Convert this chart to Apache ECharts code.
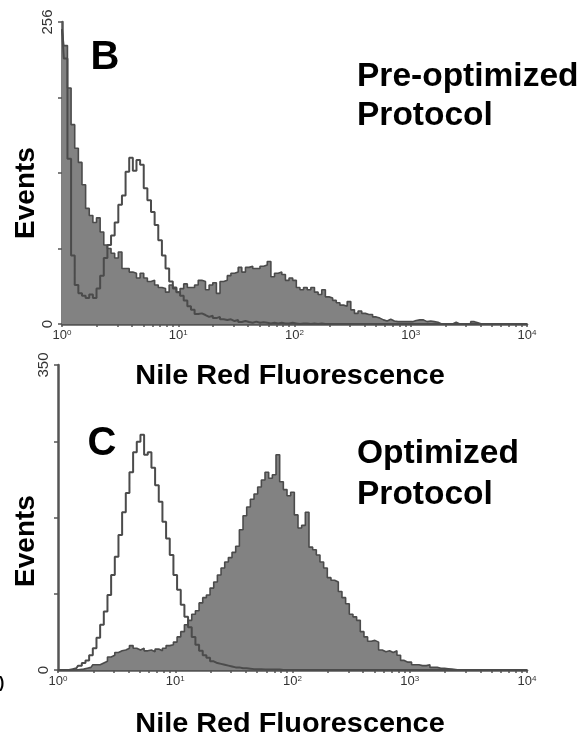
<!DOCTYPE html>
<html><head><meta charset="utf-8">
<script src="https://cdn.jsdelivr.net/npm/echarts@6/dist/echarts.min.js"></script>
<style>html,body{margin:0;padding:0;background:#fff}#c{width:582px;height:740px}</style>
</head><body><div id="c"></div>
<script>
// Channel positions on the log fluorescence axis, in decades (log10 units): 32 channels per decade, 10^0 .. 10^4
const channelDecades = Array.from({length: 129}, (_, i) => i / 32);

// Panel B (pre-optimized protocol): events per channel
const eventsB_filled = [250,236,200,169,149,137,118,98,92,86,90,78,67,64,60,56,61,47,47,44,43,39,43,39,36,37,33,31,30,27,33,30,27,30,34,31,31,33,37,36,29,33,35,26,36,37,41,43,44,48,44,48,49,47,47,49,50,53,40,43,44,42,37,39,37,31,29,31,29,31,27,25,29,23,22,20,18,16,15,19,12,9,11,9,8,8,6,5,3.5,2.5,4,2.5,2,2,2,2,2,3,3.5,3.5,2,2.5,2,1.5,0,0,0,0,1.5,0,0,0,0,2,1,0,0,0,0,0,0,0,0,0,0,0,0,0,0];
const eventsB_open = [250,225,140,58,33,26,24,22,25,22,30,41,56,67,75,86,101,109,129,141,130,139,135,115,105,95,84,71,58,47,36,31,27,24,20,15,12,8.5,9,7.6,6,7,5,6,4,3.4,4,2.5,3.4,1.7,2.5,1.7,1,2,1,1.5,1,0.5,1,0.5,1,0.5,0.5,1,0.5,0,0.5,0.5,0,0.5,0,0.5,0,0,0,0,0,0,0,0,0,0,0,0,0,0,0,0,0,0,0,0,0,0,0,0,0,0,0,0,0,0,0,0,0,0,0,0,0,0,0,0,0,0,0,0,0,0,0,0,0,0,0,0,0,0,0,0,0];

// Panel C (optimized protocol): events per channel
const eventsC_filled = [0,0,0,0,0,0,0.5,1,2,3,6,6,8,10,15,17,20,22,23,25,28,25,23,25,22,23,21,24,22,25,28,29,32,38,44,52,57,64,68,77,83,86,94,101,109,117,124,129,135,142,161,177,187,196,202,210,218,227,220,224,247,216,207,200,204,178,163,166,181,141,138,132,124,117,106,103,101,90,83,76,64,61,57,44,38,33,34,32,23,21,22,20,22,17,11,9,9,6,6,5,5,6,3,3,2,2,1.5,1,0.5,0,0,0,0,0,0,0,0,0,0,0,0,0,0,0,0,0,0,0,0];
const eventsC_open = [0,0,0,0,1,2,5,8,11,17,25,37,52,67,86,109,130,155,181,203,227,250,262,270,247,250,232,212,193,170,151,132,109,92,75,61,49,38,29,22,17,14,10,8,7,6,5,4,3,3,2,2,1.5,1,1,1,0.5,0.5,0.5,0.5,0.5,0,0,0,0,0,0,0,0,0,0,0,0,0,0,0,0,0,0,0,0,0,0,0,0,0,0,0,0,0,0,0,0,0,0,0,0,0,0,0,0,0,0,0,0,0,0,0,0,0,0,0,0,0,0,0,0,0,0,0,0,0,0,0,0,0,0,0,0];

// Axis ticks / labels
const xLabelDecades = [0, 1, 2, 3, 4];
const minorMultipliers = [1, 2, 3, 4, 5, 6, 7, 8, 9];
const yTicksB = [0, 64, 128, 192, 256];
const yLabelsB = [0, 256];
const yTicksC = [0, 87.5, 175, 262.5, 350];
const yLabelsC = [0, 350];

const FONT = '"Liberation Sans", Arial, Helvetica, sans-serif';
const axisColor = '#555555';
const lineColor = '#4b4b4b';
const fillColor = '#828282';

const xTickValues = [];
xLabelDecades.forEach(d => {
  if (d < 4) minorMultipliers.forEach(m => xTickValues.push(d + Math.log10(m)));
  else xTickValues.push(d);
});

function pairs(ys) { return ys.map((v, i) => [channelDecades[i], v]); }

function xAxisFor(gi) {
  return {
    type: 'value', gridIndex: gi, min: 0, max: 4,
    axisLine: {show: true, onZero: false, lineStyle: {color: axisColor, width: 2.5}},
    axisTick: {show: true, customValues: xTickValues, length: 3, lineStyle: {color: axisColor, width: 1.5}},
    axisLabel: {
      customValues: xLabelDecades, margin: 5,
      formatter: v => '{b|10}{s|' + Math.round(v) + '}',
      rich: {
        b: {fontSize: 13, fontFamily: FONT, color: '#333'},
        s: {fontSize: 8, fontFamily: FONT, color: '#333', verticalAlign: 'top'}
      }
    },
    splitLine: {show: false}
  };
}
function yAxisFor(gi, max, ticks, labels) {
  return {
    type: 'value', gridIndex: gi, min: 0, max: max,
    axisLine: {show: true, onZero: false, lineStyle: {color: axisColor, width: 2.5}},
    axisTick: {show: true, customValues: ticks, length: 4, lineStyle: {color: axisColor, width: 1.5}},
    axisLabel: {customValues: labels, rotate: 90, margin: 7, fontSize: 15, fontFamily: FONT, color: '#333'},
    splitLine: {show: false}
  };
}
function filledSeries(xi, ys) {
  return {type: 'line', xAxisIndex: xi, yAxisIndex: xi, data: pairs(ys), symbol: 'none', step: 'middle',
    lineStyle: {color: lineColor, width: 1.6}, areaStyle: {color: fillColor, opacity: 1}, z: 2};
}
function openSeries(xi, ys) {
  return {type: 'line', xAxisIndex: xi, yAxisIndex: xi, data: pairs(ys), symbol: 'none', step: 'middle',
    lineStyle: {color: lineColor, width: 2}, z: 3};
}
function txt(text, x, y, size, opts) {
  opts = opts || {};
  return {type: 'text', x: x, y: y, rotation: opts.rotation || 0, scaleX: opts.scaleX || 1,
    style: {text: text, font: 'bold ' + size + 'px ' + FONT, fill: '#000',
      textAlign: opts.align || 'center', textVerticalAlign: 'middle'}};
}

const chart = echarts.init(document.getElementById('c'), null, {renderer: 'canvas'});
chart.setOption({
  animation: false,
  backgroundColor: '#ffffff',
  grid: [
    {left: 62, top: 22, width: 465, height: 302},
    {left: 58, top: 365, width: 469, height: 305}
  ],
  xAxis: [xAxisFor(0), xAxisFor(1)],
  yAxis: [yAxisFor(0, 256, yTicksB, yLabelsB), yAxisFor(1, 350, yTicksC, yLabelsC)],
  series: [
    filledSeries(0, eventsB_filled), openSeries(0, eventsB_open),
    filledSeries(1, eventsC_filled), openSeries(1, eventsC_open)
  ],
  graphic: [
    txt('B', 105, 58, 40),
    txt('Pre-optimized', 357, 77, 33.5, {align: 'left'}),
    txt('Protocol', 357, 116, 33.5, {align: 'left'}),
    txt('C', 102, 444, 40),
    txt('Optimized', 357, 454, 33.5, {align: 'left'}),
    txt('Protocol', 357, 495, 33.5, {align: 'left'}),
    txt('Events', 26, 193, 28, {rotation: Math.PI / 2}),
    txt('Events', 26, 541, 28, {rotation: Math.PI / 2}),
    txt('Nile Red Fluorescence', 290, 376, 28, {scaleX: 1.03}),
    txt('Nile Red Fluorescence', 290, 724, 28, {scaleX: 1.03}),
    txt(')', -1, 684, 16, {align: 'left'})
  ]
});
</script>
</body></html>
